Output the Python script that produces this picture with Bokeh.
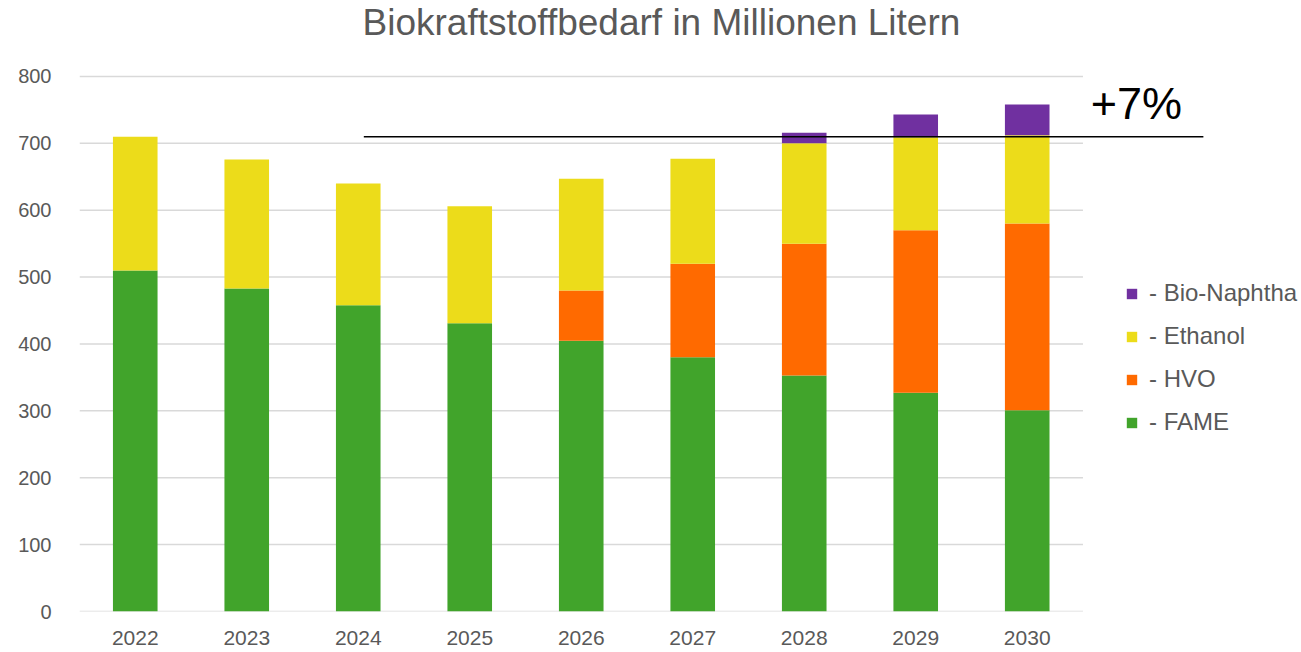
from bokeh.plotting import figure
from bokeh.models import ColumnDataSource, Legend, LegendItem, Label, FixedTicker
from bokeh.embed import file_html
from bokeh.resources import INLINE

years = ["2022", "2023", "2024", "2025", "2026", "2027", "2028", "2029", "2030"]
fame = [510, 483, 458, 431, 405, 380, 353, 327, 301]
hvo = [0, 0, 0, 0, 75, 140, 197, 243, 279]
ethanol = [200, 193, 182, 175, 167, 157, 150, 139, 132]
naphtha = [0, 0, 0, 0, 0, 0, 16, 34, 46]
series = ["FAME", "HVO", "Ethanol", "Bio-Naphtha"]
colors = ["#41a42b", "#ff6a00", "#ecdc1a", "#7030a0"]
legend_labels = ["- FAME", "- HVO", "- Ethanol", "- Bio-Naphtha"]
y_ticks = [0, 100, 200, 300, 400, 500, 600, 700, 800]
baseline_2022 = 710
growth_label = "+7%"
title_text = "Biokraftstoffbedarf in Millionen Litern"

xpos = [i + 0.5 for i in range(len(years))]
src = ColumnDataSource(dict(x=xpos, FAME=fame, HVO=hvo, Ethanol=ethanol, **{"Bio-Naphtha": naphtha}))

FONT = "Liberation Sans"
GREY = "#595959"

# frame extends to the right/top edge so that annotations outside the grid are visible
p = figure(x_range=(0, 10.96), y_range=(0, 913.6), width=1301, height=652,
           output_backend="svg", toolbar_location=None,
           min_border_left=79, min_border_right=0, min_border_top=0, min_border_bottom=41)
p.outline_line_color = None
p.background_fill_color = "white"
p.xgrid.grid_line_color = None
p.ygrid.grid_line_color = None

# own gridlines covering only the category area
p.segment(x0=0, x1=len(years), y0=y_ticks, y1=y_ticks, line_color="#d9d9d9", line_width=1.5)

rs = p.vbar_stack(series, x="x", width=0.4, color=colors, source=src, line_color=None)

# reference line at 2022 level
p.segment(x0=[2.55], x1=[10.08], y0=[baseline_2022], y1=[baseline_2022], line_color="black", line_width=1.5)

p.xaxis.ticker = FixedTicker(ticks=xpos)
p.xaxis.major_label_overrides = {x: y for x, y in zip(xpos, years)}
p.yaxis.ticker = FixedTicker(ticks=y_ticks)
for ax in (p.xaxis[0], p.yaxis[0]):
    ax.axis_line_color = None
    ax.major_tick_line_color = None
    ax.minor_tick_line_color = None
    ax.major_label_text_font = FONT
    ax.major_label_text_color = GREY
p.yaxis.major_label_text_font_size = "20px"
p.xaxis.major_label_text_font_size = "21px"
p.yaxis.major_label_standoff = 22
p.xaxis.major_label_standoff = 13

title = Label(x=283, y=589, x_units="screen", y_units="screen", text=title_text,
              text_font=FONT, text_font_size="37px", text_color=GREY, text_baseline="middle")
p.add_layout(title)

lab = Label(x=9.07, y=760, text=growth_label, text_font=FONT, text_font_size="45px",
            text_color="black", text_baseline="alphabetic")
p.add_layout(lab)

items = [LegendItem(label=legend_labels[i], renderers=[rs[i]]) for i in reversed(range(4))]
legend = Legend(items=items, location=(1046, 175), padding=0, margin=0, border_line_color=None,
                background_fill_alpha=0, glyph_width=13, glyph_height=13, label_standoff=11,
                spacing=15, label_text_font=FONT, label_text_font_size="24px",
                label_text_color=GREY)
p.add_layout(legend)

open("out.html", "w").write(file_html(p, INLINE))
